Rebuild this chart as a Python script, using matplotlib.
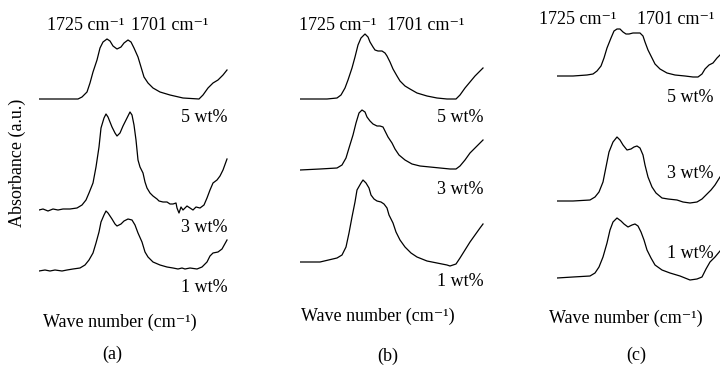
import matplotlib
matplotlib.use('Agg')
import matplotlib.pyplot as plt

plt.rcParams['font.family'] = ['Liberation Serif', 'DejaVu Serif']

# ---- panel (a) ----
wn_a5 = [1800, 1761, 1757, 1752, 1749, 1746, 1742, 1739, 1736, 1732, 1729, 1726, 1722, 1718, 1715, 1711, 1708,
         1705, 1701, 1698, 1695, 1691, 1686, 1679, 1669, 1656, 1640, 1636, 1631, 1626, 1621, 1616, 1612]
abs_a5 = [0, 0, 0.02, 0.07, 0.16, 0.27, 0.39, 0.51, 0.57, 0.60, 0.58, 0.53, 0.50, 0.52, 0.56, 0.59, 0.57,
          0.51, 0.42, 0.32, 0.22, 0.16, 0.11, 0.07, 0.04, 0.01, 0, 0.04, 0.11, 0.16, 0.19, 0.24, 0.29]

wn_a3 = [1800, 1796, 1791, 1786, 1781, 1776, 1769, 1762, 1757, 1753, 1750, 1746, 1743, 1740, 1738, 1735, 1733,
         1731, 1727, 1724, 1722, 1719, 1716, 1712, 1709, 1707, 1705, 1703, 1701, 1699, 1696, 1694, 1692, 1689,
         1686, 1682, 1680, 1676, 1672, 1669, 1666, 1663, 1662, 1660, 1658, 1656, 1654, 1652, 1649, 1646, 1643,
         1639, 1635, 1632, 1629, 1626, 1622, 1619, 1616, 1612]
abs_a3 = [0, 0.01, -0.01, 0.01, 0, 0.01, 0.01, 0.02, 0.05, 0.10, 0.17, 0.27, 0.43, 0.63, 0.82, 0.92, 0.96,
          0.93, 0.83, 0.77, 0.74, 0.77, 0.84, 0.92, 0.98, 0.95, 0.85, 0.70, 0.50, 0.43, 0.37, 0.28, 0.22, 0.17,
          0.14, 0.11, 0.09, 0.08, 0.08, 0.06, 0.06, 0.07, 0.02, -0.03, 0.03, 0, 0.02, 0.04, 0.02, 0, 0.03,
          0.02, 0.05, 0.12, 0.20, 0.27, 0.30, 0.34, 0.40, 0.51]

wn_a1 = [1800, 1794, 1789, 1784, 1777, 1772, 1766, 1759, 1754, 1750, 1746, 1743, 1740, 1738, 1735, 1733, 1731,
         1727, 1724, 1722, 1718, 1715, 1711, 1707, 1704, 1701, 1697, 1694, 1691, 1686, 1679, 1672, 1666, 1661,
         1657, 1654, 1649, 1642, 1637, 1632, 1629, 1626, 1621, 1617, 1612]
abs_a1 = [0, 0.01, 0, 0.01, 0, 0.01, 0.02, 0.03, 0.06, 0.11, 0.18, 0.28, 0.39, 0.49, 0.56, 0.60, 0.58,
          0.52, 0.47, 0.45, 0.47, 0.50, 0.52, 0.51, 0.46, 0.38, 0.29, 0.19, 0.14, 0.09, 0.06, 0.04, 0.03, 0.02,
          0.03, 0.02, 0.03, 0.02, 0.04, 0.09, 0.15, 0.18, 0.19, 0.22, 0.31]

# ---- panel (b) ----
wn_b5 = [1800, 1787, 1773, 1763, 1759, 1755, 1752, 1748, 1745, 1742, 1739, 1735, 1732, 1730, 1727, 1725, 1722,
         1718, 1715, 1713, 1710, 1707, 1703, 1700, 1695, 1690, 1683, 1673, 1663, 1653, 1644, 1640, 1635, 1630,
         1625, 1620, 1617]
abs_b5 = [0, 0, 0, 0.01, 0.04, 0.11, 0.19, 0.31, 0.42, 0.54, 0.61, 0.65, 0.62, 0.57, 0.52, 0.49, 0.48,
          0.48, 0.46, 0.43, 0.37, 0.30, 0.23, 0.18, 0.13, 0.10, 0.06, 0.03, 0.01, 0, 0, 0.04, 0.11, 0.17,
          0.23, 0.28, 0.31]

wn_b3 = [1800, 1780, 1763, 1758, 1754, 1751, 1747, 1744, 1741, 1738, 1735, 1733, 1730, 1727, 1723, 1720, 1717,
         1715, 1712, 1708, 1705, 1701, 1695, 1688, 1680, 1670, 1660, 1650, 1644, 1640, 1635, 1630, 1625, 1620,
         1617]
abs_b3 = [0, 0.01, 0.02, 0.05, 0.12, 0.22, 0.35, 0.47, 0.57, 0.60, 0.58, 0.53, 0.49, 0.46, 0.44, 0.44, 0.43,
          0.39, 0.33, 0.27, 0.21, 0.15, 0.10, 0.06, 0.04, 0.03, 0.02, 0.01, 0.01, 0.04, 0.10, 0.17, 0.22, 0.27,
          0.30]

wn_b1 = [1800, 1780, 1763, 1758, 1754, 1751, 1748, 1745, 1743, 1739, 1737, 1734, 1731, 1729, 1726, 1723, 1719,
         1716, 1713, 1711, 1707, 1704, 1700, 1695, 1689, 1683, 1673, 1663, 1653, 1650, 1644, 1640, 1635, 1630,
         1625, 1620, 1617]
abs_b1 = [0, 0, 0.04, 0.07, 0.15, 0.29, 0.45, 0.60, 0.72, 0.79, 0.82, 0.79, 0.74, 0.67, 0.63, 0.61, 0.60,
          0.58, 0.54, 0.47, 0.39, 0.30, 0.22, 0.15, 0.09, 0.05, 0.01, -0.01, -0.03, -0.04, -0.02, 0.04, 0.12,
          0.20, 0.27, 0.34, 0.38]

# ---- panel (c) ----
wn_c5 = [1800, 1784, 1770, 1764, 1760, 1756, 1753, 1750, 1746, 1743, 1740, 1737, 1734, 1731, 1728, 1724, 1720,
         1717, 1714, 1712, 1709, 1705, 1702, 1697, 1690, 1682, 1672, 1664, 1659, 1655, 1652, 1648, 1644, 1640,
         1637]
abs_c5 = [0, 0, 0.01, 0.02, 0.05, 0.10, 0.18, 0.28, 0.38, 0.45, 0.47, 0.47, 0.44, 0.42, 0.42, 0.43, 0.43,
          0.43, 0.40, 0.34, 0.26, 0.18, 0.12, 0.07, 0.03, 0.01, 0, -0.01, -0.01, 0.02, 0.07, 0.11, 0.13, 0.18,
          0.21]

wn_c3 = [1800, 1784, 1767, 1762, 1758, 1754, 1751, 1748, 1744, 1740, 1737, 1734, 1730, 1726, 1723, 1720, 1717,
         1714, 1712, 1709, 1705, 1701, 1695, 1689, 1680, 1674, 1667, 1660, 1655, 1651, 1646, 1642, 1637]
abs_c3 = [0, 0, 0.01, 0.04, 0.09, 0.19, 0.34, 0.49, 0.59, 0.64, 0.61, 0.56, 0.51, 0.52, 0.54, 0.55, 0.53,
          0.46, 0.36, 0.24, 0.14, 0.08, 0.03, 0.02, 0.01, -0.01, -0.02, -0.01, 0.02, 0.06, 0.11, 0.16, 0.24]

wn_c1 = [1800, 1784, 1767, 1762, 1758, 1754, 1750, 1747, 1744, 1740, 1736, 1733, 1729, 1725, 1722, 1719, 1716,
         1713, 1710, 1706, 1702, 1695, 1687, 1677, 1667, 1660, 1655, 1651, 1647, 1642, 1637]
abs_c1 = [0, 0.01, 0.02, 0.05, 0.11, 0.21, 0.35, 0.48, 0.56, 0.60, 0.57, 0.54, 0.51, 0.53, 0.54, 0.52, 0.46,
          0.38, 0.28, 0.20, 0.13, 0.08, 0.05, 0.02, -0.02, -0.01, 0.01, 0.09, 0.16, 0.21, 0.27]

loadings = ['5 wt%', '3 wt%', '1 wt%']
offsets_a = [2.01, 0.90, 0.29]
offsets_b = [2.01, 1.30, 0.38]
offsets_c = [2.24, 0.99, 0.22]

panels = [
    ('(a)', [(wn_a5, abs_a5), (wn_a3, abs_a3), (wn_a1, abs_a1)], offsets_a),
    ('(b)', [(wn_b5, abs_b5), (wn_b3, abs_b3), (wn_b1, abs_b1)], offsets_b),
    ('(c)', [(wn_c5, abs_c5), (wn_c3, abs_c3), (wn_c1, abs_c1)], offsets_c),
]

W, H = 720, 366
fig = plt.figure(figsize=(W / 100, H / 100), dpi=100)

# pixel layout of each panel
ax_left = [39, 300, 557]
label_peaks = [(25, 86, 170), (25, 338, 426), (20, 578, 676)]
label_wt = [(181, [118, 228, 287]), (437, [118, 190, 282]), (667, [98, 173, 253])]
label_x = [(120, 322), (378, 316), (626, 318)]
label_tag = [(112, 354), (388, 356), (636, 355)]

fs = 13


def px(x, y):
    return x / W, 1 - y / H


for i, (tag, curves, offs) in enumerate(panels):
    ax = fig.add_axes([ax_left[i] / W, 66 / H, 200 / W, 300 / H])
    for (wn, ab), off in zip(curves, offs):
        ax.plot(wn, [v + off for v in ab], color='black', lw=0.9)
    ax.set_xlim(1800, 1600)
    ax.set_ylim(0, 3.0)
    ax.axis('off')

    yy, x1, x2 = label_peaks[i]
    fig.text(*px(x1, yy), '1725 cm\u207b\u00b9', ha='center', va='center', fontsize=fs)
    fig.text(*px(x2, yy), '1701 cm\u207b\u00b9', ha='center', va='center', fontsize=fs)
    lx, lys = label_wt[i]
    for name, ly in zip(loadings, lys):
        fig.text(*px(lx, ly), name, ha='left', va='center', fontsize=fs)
    fig.text(*px(*label_x[i]), 'Wave number (cm\u207b\u00b9)', ha='center', va='center', fontsize=fs)
    fig.text(*px(*label_tag[i]), tag, ha='center', va='center', fontsize=fs)

fig.text(*px(17, 163), 'Absorbance (a.u.)', ha='center', va='center', rotation=90, fontsize=fs)

fig.savefig('out.png', dpi=100)
